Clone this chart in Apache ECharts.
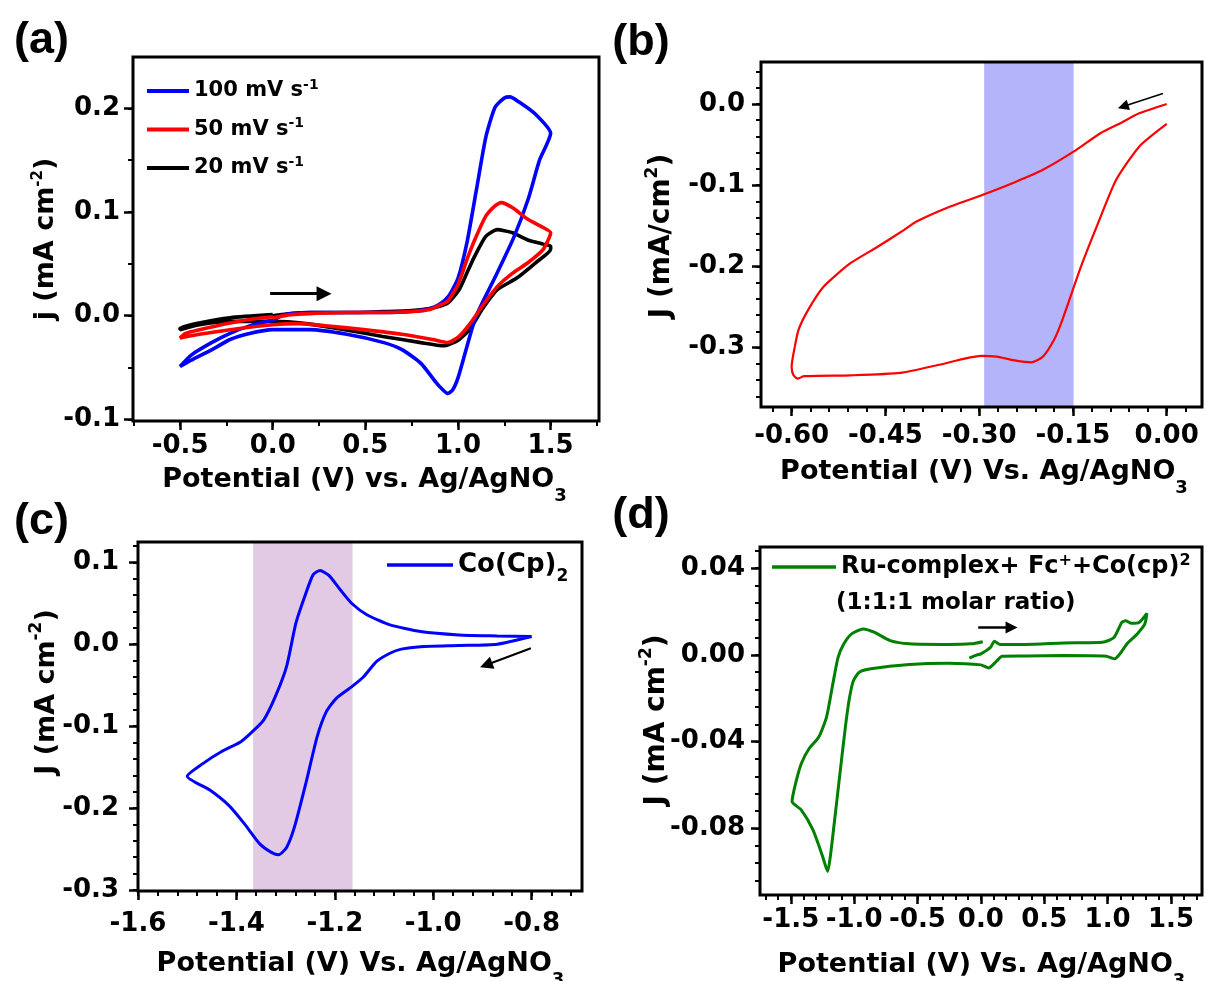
<!DOCTYPE html>
<html>
<head>
<meta charset="utf-8">
<script src="https://cdn.jsdelivr.net/npm/echarts@6.0.0/dist/echarts.min.js"></script>
<style>
html,body{margin:0;padding:0;background:#ffffff;}
#chart{width:1206px;height:981px;}
</style>
</head>
<body>
<div id="chart"></div>
<script>
// ---------------- tick labels ----------------
const aXTicks = [-0.5, 0.0, 0.5, 1.0, 1.5];
const aYTicks = [-0.1, 0.0, 0.1, 0.2];
const bXTicks = [-0.60, -0.45, -0.30, -0.15, 0.00];
const bYTicks = [-0.3, -0.2, -0.1, 0.0];
const cXTicks = [-1.6, -1.4, -1.2, -1.0, -0.8];
const cYTicks = [-0.3, -0.2, -0.1, 0.0, 0.1];
const dXTicks = [-1.5, -1.0, -0.5, 0.0, 0.5, 1.0, 1.5];
const dYTicks = [-0.08, -0.04, 0.00, 0.04];

// ---------------- series names ----------------
const aNames = ['100 mV s-1', '50 mV s-1', '20 mV s-1'];
const bName = 'CV';
const cName = 'Co(Cp)2';
const dName = 'Ru-complex+ Fc+ +Co(cp)2';
const dNote = '(1:1:1 molar ratio)';

// ---------------- (a) CV at three scan rates [V, j] ----------------
const a100 = [
  [0.0,-0.005],[0.05,0.0],[0.1,0.002],[0.2,0.003],[0.4,0.003],[0.6,0.003],[0.75,0.004],[0.85,0.007],
  [0.9,0.011],[0.95,0.019],[1.0,0.036],[1.05,0.072],[1.1,0.122],[1.15,0.172],[1.2,0.201],[1.25,0.21],
  [1.28,0.211],[1.33,0.206],[1.42,0.194],[1.5,0.176],
  [1.44,0.150],[1.38,0.113],[1.3,0.075],[1.2,0.037],[1.13,0.012],[1.09,-0.004],[1.04,-0.035],[1.0,-0.06],
  [0.97,-0.072],[0.944,-0.075],[0.91,-0.07],[0.88,-0.064],[0.8,-0.046],[0.7,-0.033],[0.6,-0.026],
  [0.4,-0.018],[0.2,-0.0135],[0.0,-0.0135],[-0.12,-0.017],[-0.23,-0.023],[-0.33,-0.033],[-0.44,-0.043],[-0.5,-0.049],
  [-0.44,-0.038],[-0.33,-0.026],[-0.23,-0.017],[-0.12,-0.0096],[0.0,-0.0045]
];
const a50 = [
  [0.0,-0.002],[0.1,0.001],[0.2,0.002],[0.4,0.003],[0.6,0.003],[0.75,0.004],[0.85,0.006],[0.9,0.01],
  [0.944,0.0138],[1.0,0.03],[1.05,0.055],[1.09,0.073],[1.15,0.096],[1.2,0.106],[1.233,0.109],[1.295,0.104],
  [1.377,0.093],[1.46,0.085],[1.5,0.08],
  [1.46,0.064],[1.377,0.051],[1.295,0.041],[1.212,0.028],[1.13,0.009],[1.068,-0.007],[1.006,-0.02],
  [0.944,-0.026],[0.862,-0.023],[0.697,-0.018],[0.49,-0.0135],[0.285,-0.0097],[0.14,-0.0077],[0.0,-0.0087],
  [-0.23,-0.0135],[-0.396,-0.018],[-0.5,-0.0215],
  [-0.47,-0.017],[-0.396,-0.0135],[-0.23,-0.007],[-0.1,-0.003],[0.0,-0.001]
];
const a20 = [
  [0.0,0.0],[0.1,0.002],[0.2,0.003],[0.4,0.003],[0.6,0.004],[0.75,0.005],[0.85,0.007],[0.9,0.009],
  [0.944,0.012],[1.006,0.025],[1.05,0.042],[1.089,0.057],[1.15,0.0765],[1.212,0.083],[1.25,0.082],
  [1.295,0.080],[1.377,0.073],[1.46,0.069],[1.5,0.067],
  [1.5,0.064],[1.419,0.051],[1.315,0.036],[1.212,0.025],[1.13,0.006],[1.068,-0.012],[1.006,-0.023],
  [0.95,-0.028],[0.924,-0.029],[0.8,-0.026],[0.594,-0.02],[0.388,-0.0135],[0.18,-0.0077],[0.0,-0.0055],
  [-0.23,-0.0055],[-0.396,-0.0087],[-0.5,-0.0135],
  [-0.5,-0.012],[-0.396,-0.007],[-0.23,-0.002],[0.0,0.001]
];
// ---------------- (b) ----------------
const bCurve = [
  [0.0,0.0],[-0.044,-0.0115],[-0.075,-0.024],[-0.106,-0.036],[-0.149,-0.0587],[-0.198,-0.081],
  [-0.241,-0.0956],[-0.295,-0.112],[-0.352,-0.128],[-0.401,-0.145],[-0.42,-0.155],[-0.463,-0.176],
  [-0.506,-0.196],[-0.549,-0.225],[-0.574,-0.254],[-0.589,-0.278],[-0.595,-0.299],[-0.6,-0.323],
  [-0.597,-0.334],[-0.59,-0.338],[-0.58,-0.335],[-0.506,-0.334],[-0.426,-0.331],[-0.364,-0.321],
  [-0.297,-0.310],[-0.272,-0.311],[-0.241,-0.316],[-0.217,-0.318],[-0.198,-0.311],[-0.18,-0.29],
  [-0.167,-0.266],[-0.137,-0.200],[-0.112,-0.151],[-0.081,-0.0936],[-0.044,-0.0525],[0.0,-0.0246]
];
const bBand = [-0.292, -0.149];
// ---------------- (c) ----------------
const cCurve = [
  [-0.8,0.0094],[-0.87,0.0],[-0.948,-0.0016],[-1.026,-0.003],[-1.065,-0.006],[-1.088,-0.011],
  [-1.115,-0.021],[-1.142,-0.04],[-1.166,-0.052],[-1.197,-0.066],[-1.217,-0.082],[-1.236,-0.113],
  [-1.259,-0.170],[-1.282,-0.223],[-1.298,-0.248],[-1.314,-0.257],[-1.329,-0.254],[-1.352,-0.244],
  [-1.384,-0.219],[-1.415,-0.197],[-1.454,-0.178],[-1.5,-0.161],
  [-1.469,-0.146],[-1.43,-0.131],[-1.391,-0.119],[-1.368,-0.107],[-1.345,-0.093],[-1.321,-0.064],
  [-1.298,-0.027],[-1.279,0.026],[-1.259,0.062],[-1.244,0.085],[-1.23,0.090],[-1.212,0.084],
  [-1.189,0.0665],[-1.166,0.050],[-1.135,0.036],[-1.088,0.0237],[-1.026,0.0155],[-0.948,0.0114],
  [-0.87,0.0102],[-0.8,0.0094]
];
const cBand = [-1.366, -1.164];
// ---------------- (d) ----------------
const dCurve = [
  [-0.091,-0.0015],[-0.03,0.0],[0.0,0.0005],[0.076,0.0035],[0.107,0.0063],[0.152,0.0048],[0.35,0.0048],
  [0.655,0.0055],[0.96,0.0058],[1.05,0.008],[1.112,0.015],[1.142,0.0158],[1.188,0.0146],[1.249,0.015],
  [1.31,0.0192],
  [1.294,0.0143],[1.234,0.0097],[1.157,0.0054],[1.097,0.0005],[1.057,-0.0018],[0.99,-0.0006],
  [0.655,-0.0003],[0.35,-0.0005],[0.168,-0.0006],[0.122,-0.003],[0.061,-0.006],[0.0,-0.0046],
  [-0.259,-0.0038],[-0.564,-0.0044],[-0.868,-0.0064],[-0.96,-0.008],[-1.005,-0.0118],[-1.036,-0.0195],
  [-1.066,-0.0317],[-1.112,-0.0547],[-1.157,-0.0777],[-1.188,-0.093],[-1.209,-0.0999],
  [-1.249,-0.093],[-1.325,-0.0808],[-1.416,-0.0716],[-1.49,-0.0677],
  [-1.462,-0.0593],[-1.416,-0.050],[-1.355,-0.0432],[-1.279,-0.0379],[-1.218,-0.0287],[-1.173,-0.0149],
  [-1.127,-0.0011],[-1.081,0.0051],[-1.02,0.0097],[-0.929,0.012],[-0.838,0.0104],[-0.716,0.0066],
  [-0.564,0.0051],[-0.259,0.0048],[-0.076,0.0051],[0.015,0.0061]
];
// ---------------- scan-direction arrows [tail, head] ----------------
const aArrow = [[-0.014, 0.0212], [0.277, 0.0212]];
const bArrow = [[-0.006, 0.013], [-0.0697, -0.0032]];
const cArrow = [[-0.8016, -0.0049], [-0.8926, -0.0254]];
const dArrow = [[-0.021, 0.0127], [0.242, 0.0127]];

// ---------------- helpers ----------------
function minorTicks(from, to, step) {
  const out = []; const n = Math.round((to - from) / step);
  for (let i = 0; i <= n; i++) out.push(+(from + i * step).toFixed(4));
  return out;
}
const FF = '"DejaVu Sans", sans-serif';
function tok(size, lh, va) {
  const o = {fontFamily: FF, fontWeight: 'bold', fontSize: size, lineHeight: lh, fill: '#000', color: '#000'};
  if (va) o.verticalAlign = va;
  return o;
}

const P = [
  {grid:{left:133, top:57, width:466, height:364}, xr:[-0.754,1.761], yr:[-0.1016,0.2495],
   xt:aXTicks, yt:aYTicks, xm:minorTicks(-0.75,1.75,0.25), ym:minorTicks(-0.1,0.2,0.05),
   xd:1, yd:1, xmg:12, ymg:13, xfs:26, yfs:26},
  {grid:{left:761, top:62, width:441, height:345}, xr:[-0.649,0.0565], yr:[-0.373,0.0517],
   xt:bXTicks, yt:bYTicks, xm:minorTicks(-0.63,0.03,0.03), ym:minorTicks(-0.36,0.04,0.02),
   xd:2, yd:1, xmg:16, ymg:16, xfs:26, yfs:26},
  {grid:{left:138, top:542, width:444, height:349}, xr:[-1.6,-0.6977], yr:[-0.3012,0.1248],
   xt:cXTicks, yt:cYTicks, xm:minorTicks(-1.6,-0.72,0.04), ym:minorTicks(-0.3,0.12,0.02),
   xd:1, yd:1, xmg:20, ymg:19, xfs:26, yfs:26},
  {grid:{left:760, top:547, width:442, height:348}, xr:[-1.743,1.745], yr:[-0.1108,0.0498],
   xt:dXTicks, yt:dYTicks, xm:minorTicks(-1.7,1.7,0.1), ym:minorTicks(-0.104,0.048,0.008),
   xd:1, yd:2, xmg:12, ymg:15, xfs:26, yfs:26}
];

const grids = [], xAxes = [], yAxes = [];
P.forEach(p => grids.push(Object.assign({show:false, containLabel:false, outerBoundsMode:'none'}, p.grid)));
P.forEach(p => grids.push(Object.assign({show:true, z:10, backgroundColor:'transparent', borderColor:'#000',
  borderWidth:3, containLabel:false, outerBoundsMode:'none'}, p.grid)));

const labelStyle = (fs) => ({color:'#000', fontFamily:FF, fontWeight:'bold', fontSize:fs});
P.forEach((p, i) => {
  xAxes.push({gridIndex:i, type:'value', min:p.xr[0], max:p.xr[1], position:'bottom',
    axisLine:{show:false, onZero:false}, splitLine:{show:false},
    axisTick:{show:true, inside:false, length:9, customValues:p.xt, lineStyle:{color:'#000', width:2.5}},
    axisLabel:Object.assign({show:true, customValues:p.xt, margin:p.xmg,
      formatter:(v) => Number(v).toFixed(p.xd)}, labelStyle(p.xfs))});
  yAxes.push({gridIndex:i, type:'value', min:p.yr[0], max:p.yr[1], position:'left',
    axisLine:{show:false, onZero:false}, splitLine:{show:false},
    axisTick:{show:true, inside:false, length:9, customValues:p.yt, lineStyle:{color:'#000', width:2.5}},
    axisLabel:Object.assign({show:true, customValues:p.yt, margin:p.ymg,
      formatter:(v) => Number(v).toFixed(p.yd)}, labelStyle(p.yfs))});
});
P.forEach((p, i) => {
  xAxes.push({gridIndex:4+i, type:'value', min:p.xr[0], max:p.xr[1], position:'bottom',
    axisLine:{show:false, onZero:false}, splitLine:{show:false}, axisLabel:{show:false},
    axisTick:{show:true, inside:false, length:5, customValues:p.xm, lineStyle:{color:'#000', width:2}}});
  yAxes.push({gridIndex:4+i, type:'value', min:p.yr[0], max:p.yr[1], position:'left',
    axisLine:{show:false, onZero:false}, splitLine:{show:false}, axisLabel:{show:false},
    axisTick:{show:true, inside:false, length:5, customValues:p.ym, lineStyle:{color:'#000', width:2}}});
});

function curve(name, data, color, width, idx, extra) {
  return Object.assign({type:'line', name, data, xAxisIndex:idx, yAxisIndex:idx, showSymbol:false,
    symbol:'none', smooth:0.2, color, lineStyle:{color, width}, z:3, silent:true}, extra || {});
}
function arrow(arr, width, size) {
  return {silent:true, symbol:['none','triangle'], symbolSize:size, label:{show:false},
    emphasis:{disabled:true}, itemStyle:{color:'#000'}, lineStyle:{color:'#000', width, type:'solid'},
    data:[[{coord:arr[0]}, {coord:arr[1]}]]};
}
function band(range, color, idx) {
  return {type:'line', name:'band' + idx, data:[], xAxisIndex:idx, yAxisIndex:idx, z:1, silent:true,
    markArea:{silent:true, itemStyle:{color, opacity:1}, data:[[{xAxis:range[0]}, {xAxis:range[1]}]]}};
}

const series = [
  band(bBand, '#b4b4fa', 1),
  band(cBand, '#e2c9e4', 2),
  curve(aNames[2], a20, '#000000', 3.6, 0, {markLine: arrow(aArrow, 3, 15)}),
  curve(aNames[0], a100, '#0000ff', 3.6, 0),
  curve(aNames[1], a50, '#ff0000', 3.6, 0),
  curve(bName, bCurve, '#ff0000', 2.2, 1, {markLine: arrow(bArrow, 1.6, 11)}),
  curve(cName, cCurve, '#0000ff', 3, 2, {markLine: arrow(cArrow, 2, 13)}),
  curve(dName, dCurve, '#008000', 3, 3, {markLine: arrow(dArrow, 2.5, 12)})
];

const legends = [
  {data:aNames, orient:'vertical', left:147, top:78, itemWidth:42, itemHeight:4, itemGap:15, itemTextGap:8,
   icon:'rect', padding:0, selectedMode:false,
   formatter:(n) => '{t|' + n.replace('-1', '') + '}{p|-1}',
   textStyle:{fontFamily:FF, fontWeight:'bold', fontSize:21, color:'#000', rich:{t:tok(21,26), p:tok(14,14,'top')}}},
  {data:[cName], orient:'vertical', left:387, top:552, itemWidth:66, itemHeight:3.5, itemTextGap:11,
   icon:'rect', padding:0, selectedMode:false,
   formatter:(n) => '{t|' + n.slice(0, -1) + '}{b|' + n.slice(-1) + '}',
   textStyle:{fontFamily:FF, fontWeight:'bold', fontSize:26, color:'#000', rich:{t:tok(26,40), b:tok(17,17,'bottom')}}},
  {data:[dName], orient:'vertical', left:772, top:553, itemWidth:64, itemHeight:3.5, itemTextGap:8,
   icon:'rect', padding:0, selectedMode:false,
   formatter:() => '{t|Ru-complex+ Fc}{p|+}{t|+Co(cp)}{p|2}',
   textStyle:{fontFamily:FF, fontWeight:'bold', fontSize:24, color:'#000', rich:{t:tok(24,28), p:tok(16,16,'top')}}}
];

function gText(x, y, text, rich, rotation, align) {
  return {type:'text', x, y, rotation: rotation || 0, z:100, silent:true,
    style:{text, rich, align: align || 'center', verticalAlign:'middle', fill:'#000',
      font:'bold 27px "DejaVu Sans"'}};
}
const xtRich = {t:tok(27,50), s:tok(18,18,'bottom')};
const ytRich = (fs, lh, sfs) => ({t:tok(fs,lh), p:tok(sfs,sfs,'top')});
const panelFont = {t:{fontFamily:'"Liberation Sans", Arial, sans-serif', fontWeight:'bold', fontSize:45, lineHeight:50, fill:'#000'}};
const R = Math.PI / 2;

const graphics = [
  gText(41.5, 40.5, '{t|(a)}', panelFont),
  gText(641, 43, '{t|(b)}', panelFont),
  gText(41.5, 522, '{t|(c)}', panelFont),
  gText(641, 516, '{t|(d)}', panelFont),
  gText(364.5, 480, '{t|Potential (V) vs. Ag/AgNO}{s|3}', xtRich),
  gText(984, 472, '{t|Potential (V) Vs. Ag/AgNO}{s|3}', xtRich),
  gText(360.5, 964, '{t|Potential (V) Vs. Ag/AgNO}{s|3}', xtRich),
  gText(981.5, 965, '{t|Potential (V) Vs. Ag/AgNO}{s|3}', xtRich),
  gText(46, 239, '{t|j (mA cm}{p|-2}{t|)}', ytRich(27, 30, 15), R),
  gText(662, 236, '{t|J (mA/cm}{p|2}{t|)}', ytRich(28, 36, 17), R),
  gText(47, 692, '{t|J (mA cm}{p|-2}{t|)}', ytRich(27, 38, 17), R),
  gText(657, 720, '{t|J (mA cm}{p|-2}{t|)}', ytRich(28, 38, 17), R),
  gText(836, 603, '{t|' + dNote + '}', {t:tok(23,28)}, 0, 'left')
];

const chart = echarts.init(document.getElementById('chart'), null, {renderer:'canvas'});
chart.setOption({
  backgroundColor:'#ffffff',
  animation:false,
  textStyle:{fontFamily:FF},
  grid:grids,
  xAxis:xAxes,
  yAxis:yAxes,
  legend:legends,
  series:series,
  graphic:{elements:graphics}
});
</script>
</body>
</html>
